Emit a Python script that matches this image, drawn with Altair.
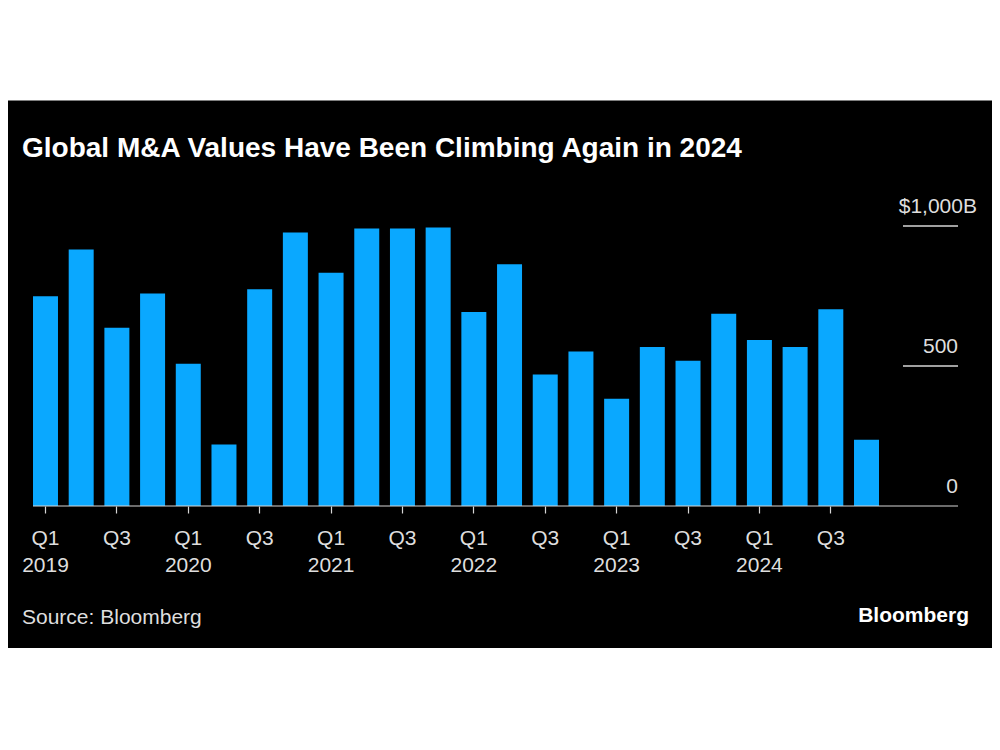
import altair as alt
import pandas as pd

# ---- data ----
quarters = [
    "Q1 2019", "Q2 2019", "Q3 2019", "Q4 2019",
    "Q1 2020", "Q2 2020", "Q3 2020", "Q4 2020",
    "Q1 2021", "Q2 2021", "Q3 2021", "Q4 2021",
    "Q1 2022", "Q2 2022", "Q3 2022", "Q4 2022",
    "Q1 2023", "Q2 2023", "Q3 2023", "Q4 2023",
    "Q1 2024", "Q2 2024", "Q3 2024", "Q4 2024",
]
values = [
    749, 916, 637, 759,
    508, 220, 774, 977,
    833, 991, 991, 995,
    693, 863, 470, 552,
    383, 568, 519, 687,
    593, 568, 703, 237,
]
tick_quarters = [q for q in quarters if q.startswith("Q1") or q.startswith("Q3")]
grid_values = [500, 1000]
y_label_values = [0, 500]
y_label_texts = ["0", "500"]
top_label_value = [1000]
top_label_text = ["$1,000B"]
title_text = "Global M&A Values Have Been Climbing Again in 2024"
source_text = "Source: Bloomberg"
brand_text = "Bloomberg"

W, H = 925, 280
FONT = "Liberation Sans"
LABEL_COLOR = "#dedede"
LINE_COLOR = "#d6d6d6"
BAR_COLOR = "#0AA8FF"

df = pd.DataFrame({"quarter": quarters, "value": values})
yscale = alt.Scale(domain=[0, 1000])

panel = alt.Chart(pd.DataFrame({"value": [0]})).mark_rect(color="#000000").encode(
    x=alt.value(-40), x2=alt.value(1000), y=alt.value(-125.5), y2=alt.value(422)
)

label_expr = (
    "indexof(datum.value, 'Q1') == 0 ? split(datum.value, ' ') : split(datum.value, ' ')[0]"
)

bars = alt.Chart(df).mark_bar(color=BAR_COLOR).encode(
    x=alt.X(
        "quarter:N",
        sort=quarters,
        scale=alt.Scale(range=[0, 846], paddingInner=0.3, paddingOuter=0),
        axis=alt.Axis(
            values=tick_quarters,
            labelExpr=label_expr,
            domain=False,
            grid=False,
            ticks=True,
            tickColor=LINE_COLOR,
            tickSize=7,
            tickWidth=1.2,
            labelAngle=0,
            labelFont=FONT,
            labelFontSize=21,
            labelColor=LABEL_COLOR,
            labelPadding=14,
            labelLineHeight=27,
            labelBaseline="top",
            labelOverlap=False,
            title=None,
            zindex=2,
        ),
    ),
    y=alt.Y("value:Q", scale=yscale, axis=None),
)

axis_line = alt.Chart(pd.DataFrame({"value": [0]})).mark_rule(
    color=LINE_COLOR, strokeWidth=1.2
).encode(y=alt.Y("value:Q", scale=yscale), x=alt.value(0), x2=alt.value(W))

grid = alt.Chart(pd.DataFrame({"value": grid_values})).mark_rule(
    color=LINE_COLOR, strokeWidth=1.5
).encode(y=alt.Y("value:Q", scale=yscale), x=alt.value(870), x2=alt.value(W))

ylabels = alt.Chart(pd.DataFrame({"value": y_label_values, "label": y_label_texts})).mark_text(
    align="right", baseline="alphabetic", dy=-13, font=FONT, fontSize=21, color=LABEL_COLOR
).encode(y=alt.Y("value:Q", scale=yscale), x=alt.value(W), text="label:N")

toplabel = alt.Chart(pd.DataFrame({"value": top_label_value, "label": top_label_text})).mark_text(
    align="right", baseline="alphabetic", dy=-13, font=FONT, fontSize=21, color=LABEL_COLOR
).encode(y=alt.Y("value:Q", scale=yscale), x=alt.value(944), text="label:N")

title = alt.Chart(pd.DataFrame({"t": [title_text]})).mark_text(
    align="left", baseline="alphabetic", font=FONT, fontSize=28, fontWeight="bold", color="#ffffff"
).encode(x=alt.value(-11), y=alt.value(-69), text="t:N")

source = alt.Chart(pd.DataFrame({"t": [source_text]})).mark_text(
    align="left", baseline="alphabetic", font=FONT, fontSize=21, color=LABEL_COLOR
).encode(x=alt.value(-11), y=alt.value(398), text="t:N")

brand = alt.Chart(pd.DataFrame({"t": [brand_text]})).mark_text(
    align="right", baseline="alphabetic", font=FONT, fontSize=21, fontWeight="bold", color="#ffffff"
).encode(x=alt.value(936), y=alt.value(396), text="t:N")

chart = alt.layer(
    panel, bars, axis_line, grid, ylabels, toplabel, title, source, brand
).properties(
    width=W,
    height=H,
    autosize=alt.AutoSizeParams(type="none"),
    padding={"left": 25, "top": 218, "right": 34, "bottom": 220},
    background="#ffffff",
).configure_view(stroke=None)

chart.save("out.html", embed_options={"renderer": "svg", "actions": False})
